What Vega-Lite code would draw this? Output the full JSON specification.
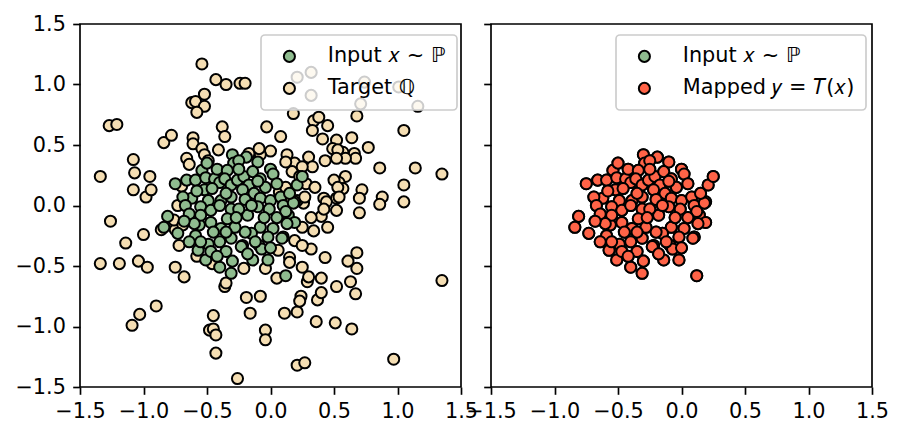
{
 "$schema": "https://vega.github.io/schema/vega-lite/v6.json",
 "padding": {"left": 14, "top": 12, "right": 0, "bottom": 0},
 "background": "white",
 "spacing": 30,
 "bounds": "flush",
 "datasets": {
  "target": [
   {"x":-0.54,"y":1.17},{"x":-0.43,"y":1.04},{"x":-0.35,"y":1.0},{"x":-0.24,"y":1.01},{"x":-0.2,"y":1.01},{"x":-0.62,"y":0.85},{"x":-0.59,"y":0.86},{"x":-0.52,"y":0.92},{"x":-0.52,"y":0.82},{"x":-0.58,"y":0.77},
   {"x":-1.27,"y":0.66},{"x":-1.21,"y":0.67},{"x":-0.84,"y":0.52},{"x":-0.78,"y":0.58},{"x":-0.38,"y":0.65},{"x":-0.36,"y":0.57},{"x":-0.03,"y":0.65},{"x":0.08,"y":0.57},{"x":-1.08,"y":0.38},{"x":-1.07,"y":0.27},
   {"x":-0.95,"y":0.24},{"x":-1.34,"y":0.24},{"x":-1.08,"y":0.13},{"x":-0.98,"y":0.07},{"x":-0.61,"y":0.56},{"x":-0.61,"y":0.51},{"x":-0.54,"y":0.47},{"x":-0.52,"y":0.42},{"x":-0.41,"y":0.46},{"x":-0.66,"y":0.39},
   {"x":-0.64,"y":0.34},{"x":0.18,"y":0.76},{"x":0.34,"y":0.7},{"x":0.38,"y":0.73},{"x":0.45,"y":0.66},{"x":0.33,"y":0.62},{"x":0.41,"y":0.55},{"x":0.52,"y":0.54},{"x":0.49,"y":0.47},{"x":0.64,"y":0.56},
   {"x":0.68,"y":0.74},{"x":0.77,"y":0.48},{"x":1.05,"y":0.62},{"x":1.14,"y":0.31},{"x":1.35,"y":0.26},{"x":0.86,"y":0.31},{"x":1.05,"y":0.17},{"x":0.57,"y":0.44},{"x":0.66,"y":0.43},{"x":0.67,"y":0.39},
   {"x":0.59,"y":0.39},{"x":0.43,"y":0.37},{"x":0.3,"y":0.4},{"x":0.33,"y":0.32},{"x":0.19,"y":0.35},{"x":0.13,"y":0.42},{"x":0.0,"y":0.45},{"x":-0.08,"y":0.42},{"x":-0.17,"y":0.43},{"x":0.59,"y":0.24},
   {"x":0.54,"y":0.19},{"x":0.57,"y":0.14},{"x":0.72,"y":0.13},{"x":0.7,"y":0.06},{"x":0.88,"y":0.07},{"x":1.05,"y":0.03},{"x":0.17,"y":0.28},{"x":0.42,"y":0.06},{"x":0.5,"y":0.21},
   {"x":0.21,"y":1.06},{"x":0.32,"y":1.1},{"x":0.32,"y":0.91},{"x":0.74,"y":1.02},{"x":0.71,"y":0.84},{"x":1.01,"y":0.98},{"x":1.16,"y":0.82},
   {"x":-0.73,"y":0.0},{"x":-1.26,"y":-0.13},{"x":-1.0,"y":-0.24},{"x":-1.14,"y":-0.31},{"x":-1.34,"y":-0.48},{"x":-1.19,"y":-0.48},{"x":-1.04,"y":-0.46},{"x":-0.97,"y":-0.51},{"x":-0.75,"y":-0.51},{"x":-0.68,"y":-0.59},
   {"x":-0.9,"y":-0.83},{"x":-1.03,"y":-0.9},{"x":-1.09,"y":-0.99},{"x":-0.45,"y":-0.91},{"x":-0.48,"y":-1.03},{"x":-0.45,"y":-1.02},{"x":-0.43,"y":-1.07},{"x":-0.43,"y":-1.22},{"x":-0.26,"y":-1.43},{"x":-0.19,"y":-0.76},
   {"x":-0.08,"y":-0.75},{"x":-0.16,"y":-0.89},{"x":-0.04,"y":-1.03},{"x":-0.04,"y":-1.11},{"x":0.21,"y":-1.32},{"x":0.27,"y":-1.3},{"x":0.11,"y":-0.89},{"x":0.21,"y":-0.88},{"x":0.24,"y":-0.75},{"x":0.23,"y":-0.79},
   {"x":0.36,"y":-0.96},{"x":0.51,"y":-0.97},{"x":0.64,"y":-1.02},{"x":0.37,"y":-0.78},{"x":0.4,"y":-0.72},{"x":0.52,"y":-0.67},{"x":0.63,"y":-0.63},{"x":0.67,"y":-0.73},{"x":0.68,"y":-0.52},{"x":0.68,"y":-0.39},
   {"x":0.61,"y":-0.46},{"x":0.4,"y":-0.6},{"x":0.29,"y":-0.63},{"x":0.3,"y":-0.59},{"x":0.25,"y":-0.51},{"x":0.43,"y":-0.43},{"x":0.32,"y":-0.36},{"x":0.15,"y":-0.43},{"x":0.15,"y":-0.47},{"x":0.05,"y":-0.6},
   {"x":0.06,"y":-0.37},{"x":0.97,"y":-1.27},{"x":1.35,"y":-0.62},{"x":0.45,"y":-0.18},{"x":0.34,"y":-0.21},{"x":0.4,"y":-0.09},{"x":0.32,"y":-0.1},{"x":0.25,"y":-0.18},{"x":0.52,"y":-0.04},{"x":0.52,"y":0.06},
   {"x":0.7,"y":-0.06},{"x":0.86,"y":0.01},{"x":0.44,"y":0.03},{"x":0.26,"y":0.02},{"x":-0.36,"y":-0.67},{"x":-0.35,"y":-0.64},{"x":-0.21,"y":-0.52},{"x":-0.04,"y":-0.52},{"x":-0.75,"y":-0.2},{"x":-0.86,"y":-0.2},
   {"x":-0.72,"y":-0.33},{"x":-0.58,"y":-0.42},{"x":-0.46,"y":-0.48},{"x":-0.49,"y":0.37},{"x":-0.94,"y":0.13},{"x":-0.7,"y":0.16},
   {"x":0.53,"y":0.46},{"x":0.52,"y":0.39},{"x":0.25,"y":0.32},{"x":0.12,"y":0.36},{"x":-0.09,"y":0.47},{"x":0.23,"y":0.24},{"x":0.28,"y":0.18},{"x":0.35,"y":0.15},{"x":0.53,"y":0.15},{"x":0.54,"y":0.07},
   {"x":0.07,"y":0.11},{"x":0.12,"y":0.15},{"x":0.21,"y":0.04},{"x":0.16,"y":0.03},{"x":0.27,"y":0.07},{"x":-0.76,"y":-0.12},{"x":-0.69,"y":-0.16},{"x":0.42,"y":-0.03},{"x":0.19,"y":-0.29},{"x":0.25,"y":-0.33}
  ],
  "input": [
   {"x":-0.3,"y":0.42},{"x":-0.29,"y":0.35},{"x":-0.75,"y":0.18},{"x":-0.66,"y":0.21},{"x":-0.59,"y":0.21},{"x":-0.54,"y":0.29},{"x":-0.51,"y":0.23},{"x":-0.44,"y":0.22},{"x":-0.4,"y":0.19},{"x":-0.42,"y":0.3},
   {"x":-0.34,"y":0.29},{"x":-0.36,"y":0.22},{"x":-0.31,"y":0.17},{"x":-0.26,"y":0.21},{"x":-0.62,"y":0.06},{"x":-0.52,"y":0.13},{"x":-0.46,"y":0.14},{"x":-0.49,"y":0.04},{"x":-0.39,"y":0.04},{"x":-0.31,"y":0.07},
   {"x":-0.69,"y":0.07},{"x":-0.19,"y":0.4},{"x":-0.1,"y":0.36},{"x":0.0,"y":0.3},{"x":0.02,"y":0.26},{"x":-0.25,"y":0.37},{"x":-0.21,"y":0.24},{"x":-0.14,"y":0.28},{"x":-0.08,"y":0.22},{"x":-0.17,"y":0.17},
   {"x":-0.04,"y":0.15},{"x":-0.22,"y":0.13},{"x":-0.13,"y":0.1},{"x":-0.08,"y":0.06},{"x":0.0,"y":0.04},{"x":0.08,"y":0.07},{"x":0.21,"y":0.17},{"x":0.19,"y":0.03},{"x":0.25,"y":0.24},
   {"x":-0.81,"y":-0.09},{"x":-0.84,"y":-0.18},{"x":-0.73,"y":-0.23},{"x":-0.67,"y":0.0},{"x":-0.64,"y":-0.07},{"x":-0.55,"y":-0.01},{"x":-0.47,"y":-0.04},{"x":-0.4,"y":0.0},{"x":-0.31,"y":-0.03},{"x":-0.56,"y":-0.16},
   {"x":-0.47,"y":-0.14},{"x":-0.39,"y":-0.19},{"x":-0.34,"y":-0.11},{"x":-0.59,"y":-0.25},{"x":-0.64,"y":-0.3},{"x":-0.49,"y":-0.32},{"x":-0.4,"y":-0.3},{"x":-0.31,"y":-0.27},{"x":-0.57,"y":-0.37},{"x":-0.51,"y":-0.45},
   {"x":-0.4,"y":-0.51},{"x":-0.35,"y":-0.38},{"x":-0.3,"y":-0.46},{"x":-0.31,"y":-0.56},{"x":-0.47,"y":-0.38},{"x":-0.18,"y":-0.08},{"x":-0.25,"y":-0.03},{"x":-0.1,"y":-0.01},{"x":-0.01,"y":-0.03},{"x":0.1,"y":0.0},
   {"x":0.18,"y":0.02},{"x":0.14,"y":-0.08},{"x":0.02,"y":-0.19},{"x":0.1,"y":-0.26},{"x":-0.08,"y":-0.18},{"x":-0.15,"y":-0.23},{"x":-0.22,"y":-0.33},{"x":-0.09,"y":-0.33},{"x":-0.02,"y":-0.26},{"x":-0.14,"y":-0.45},
   {"x":-0.02,"y":-0.45},{"x":0.12,"y":-0.58},{"x":0.19,"y":-0.14},{"x":0.12,"y":-0.05},{"x":0.13,"y":-0.15},{"x":0.09,"y":-0.27},{"x":-0.07,"y":-0.36},{"x":-0.2,"y":-0.22},{"x":-0.23,"y":-0.34},
   {"x":-0.45,"y":-0.22},{"x":-0.55,"y":-0.08},{"x":-0.28,"y":-0.18},{"x":-0.2,"y":0.05},{"x":-0.05,"y":-0.1},{"x":0.05,"y":-0.1},{"x":-0.35,"y":0.1},{"x":-0.6,"y":-0.15},{"x":-0.25,"y":0.3},{"x":-0.1,"y":0.2},
   {"x":0.05,"y":0.18},{"x":-0.42,"y":-0.42},{"x":-0.18,"y":-0.4},{"x":0.0,"y":-0.35},{"x":-0.5,"y":0.35},{"x":-0.68,"y":-0.13},{"x":-0.27,"y":-0.1},{"x":-0.15,"y":0.0},{"x":-0.58,"y":0.12},{"x":-0.12,"y":-0.3},
   {"x":0.15,"y":0.1},{"x":-0.35,"y":-0.22},{"x":-0.55,"y":-0.3}
  ]
 },
 "config": {
  "view": {"stroke": "black", "strokeWidth": 1.67},
  "axis": {"grid": false, "domain": false, "tickColor": "black", "tickWidth": 1.67, "tickSize": 7.3, "labelFont": "DejaVu Sans", "labelFontSize": 20.8, "labelColor": "black", "labelPadding": 7.3, "labelFlush": false, "labelOverlap": false, "labelBound": false},
  "legend": {"orient": "none", "zindex": 1, "padding": 11, "rowPadding": 10, "symbolType": "circle", "symbolSize": 123, "symbolStrokeColor": "black", "symbolStrokeWidth": 2, "symbolOpacity": 1, "symbolOffset": 7, "labelOffset": 28, "labelFont": "DejaVu Sans", "labelFontSize": 20.8, "labelColor": "black", "labelLimit": 400, "fillColor": "rgba(255,255,255,0.8)", "strokeColor": "#cccccc", "strokeWidth": 1.67, "cornerRadius": 4}
 },
 "resolve": {"scale": {"color": "independent"}, "legend": {"color": "independent"}},
 "hconcat": [
  {
   "width": 381, "height": 363,
   "layer": [
    {
     "data": {"name": "target"},
     "mark": {"type": "point", "filled": true, "shape": "circle", "size": 123, "stroke": "black", "strokeWidth": 2, "opacity": 1},
     "encoding": {
      "x": {"field": "x", "type": "quantitative", "scale": {"domain": [-1.5, 1.5], "nice": false, "zero": false}, "axis": {"values": [-1.5, -1, -0.5, 0, 0.5, 1, 1.5], "format": ".1f", "title": null}},
      "y": {"field": "y", "type": "quantitative", "scale": {"domain": [-1.5, 1.5], "nice": false, "zero": false}, "axis": {"values": [-1.5, -1, -0.5, 0, 0.5, 1, 1.5], "format": ".1f", "title": null}},
      "color": {"datum": "Target ℚ", "type": "nominal", "scale": {"domain": ["Input 𝑥 ∼ ℙ", "Target ℚ"], "range": ["#8fbc8f", "#f5deb3"]}, "legend": {"title": null, "legendX": 181, "legendY": 11}}
     }
    },
    {
     "data": {"name": "input"},
     "mark": {"type": "point", "filled": true, "shape": "circle", "size": 123, "stroke": "black", "strokeWidth": 2, "opacity": 1},
     "encoding": {
      "x": {"field": "x", "type": "quantitative"},
      "y": {"field": "y", "type": "quantitative"},
      "color": {"datum": "Input 𝑥 ∼ ℙ", "type": "nominal"}
     }
    }
   ]
  },
  {
   "width": 381, "height": 363,
   "layer": [
    {
     "data": {"name": "input"},
     "mark": {"type": "point", "filled": true, "shape": "circle", "size": 123, "stroke": "black", "strokeWidth": 2, "opacity": 1},
     "encoding": {
      "x": {"field": "x", "type": "quantitative", "scale": {"domain": [-1.5, 1.5], "nice": false, "zero": false}, "axis": {"values": [-1.5, -1, -0.5, 0, 0.5, 1, 1.5], "format": ".1f", "title": null}},
      "y": {"field": "y", "type": "quantitative", "scale": {"domain": [-1.5, 1.5], "nice": false, "zero": false}, "axis": {"values": [-1.5, -1, -0.5, 0, 0.5, 1, 1.5], "labels": false, "title": null}},
      "color": {"datum": "Input 𝑥 ∼ ℙ", "type": "nominal", "scale": {"domain": ["Input 𝑥 ∼ ℙ", "Mapped 𝑦 = 𝑇(𝑥)"], "range": ["#8fbc8f", "#ff6347"]}, "legend": {"title": null, "legendX": 125, "legendY": 11}}
     }
    },
    {
     "data": {"name": "input"},
     "mark": {"type": "point", "filled": true, "shape": "circle", "size": 123, "stroke": "black", "strokeWidth": 2, "opacity": 1},
     "encoding": {
      "x": {"field": "x", "type": "quantitative"},
      "y": {"field": "y", "type": "quantitative"},
      "color": {"datum": "Mapped 𝑦 = 𝑇(𝑥)", "type": "nominal"}
     }
    }
   ]
  }
 ]
}
